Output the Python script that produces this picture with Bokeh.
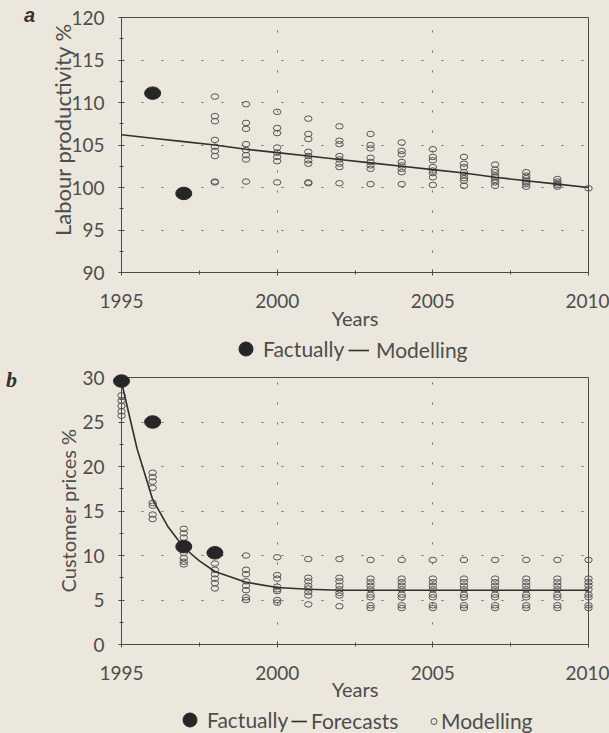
import math
from bokeh.plotting import figure
from bokeh.models import (ColumnDataSource, Legend, LegendItem, Range1d,
                          FixedTicker)
from bokeh.core.properties import value
from bokeh.layouts import column
from bokeh.embed import file_html
from bokeh.resources import INLINE

# ---------------- data: panel a (Labour productivity %) ----------------
a_fact_years = [1996, 1997]
a_fact_values = [111.1, 99.3]

a_line_years = [1995, 1996, 1997, 1998, 1999, 2000, 2001, 2002, 2003, 2004,
                2005, 2006, 2007, 2008, 2009, 2010]
a_line_values = [106.2, 105.8, 105.4, 105.0, 104.5, 104.1, 103.7, 103.3, 102.9,
                 102.5, 102.1, 101.7, 101.2, 100.8, 100.4, 100.0]

a_model_years = [1998, 1999, 2000, 2001, 2002, 2003, 2004, 2005, 2006, 2007,
                 2008, 2009, 2010]
a_model_values = [
    [110.7, 108.4, 107.8, 105.6, 104.8, 104.3, 103.7, 100.7, 100.6],
    [109.8, 107.6, 106.9, 105.1, 104.4, 103.8, 103.3, 100.7],
    [108.9, 107.0, 106.4, 104.7, 104.1, 103.6, 103.1, 100.6],
    [108.1, 106.3, 105.7, 104.2, 103.7, 103.2, 102.8, 100.6, 100.5],
    [107.2, 105.5, 105.1, 103.7, 103.3, 102.8, 102.4, 100.5],
    [106.3, 105.0, 104.6, 103.5, 103.0, 102.6, 102.2, 100.4],
    [105.3, 104.3, 103.9, 103.0, 102.6, 102.2, 101.8, 100.4],
    [104.5, 103.6, 103.2, 102.4, 102.0, 101.7, 101.2, 100.3],
    [103.6, 102.8, 102.4, 101.8, 101.5, 101.1, 100.8, 100.2],
    [102.7, 102.1, 101.8, 101.4, 101.2, 100.9, 100.6, 100.2],
    [101.8, 101.4, 101.1, 100.8, 100.6, 100.4, 100.1],
    [101.0, 100.7, 100.5, 100.3, 100.1],
    [99.9],
]

# ---------------- data: panel b (Customer prices %) ----------------
b_fact_years = [1995, 1996, 1997, 1998]
b_fact_values = [29.6, 25.0, 11.0, 10.3]

b_line_years = [1995, 1995.5, 1996, 1996.5, 1997, 1997.5, 1998, 1999, 2000,
                2001, 2002, 2003, 2004, 2005, 2006, 2007, 2008, 2009, 2010]
b_line_values = [29.5, 22.0, 16.3, 13.2, 10.9, 9.4, 8.2, 7.0, 6.4,
                 6.2, 6.1, 6.1, 6.1, 6.1, 6.1, 6.1, 6.1, 6.1, 6.1]

b_model_years = [1995, 1996, 1997, 1998, 1999, 2000, 2001, 2002, 2003, 2004,
                 2005, 2006, 2007, 2008, 2009, 2010]
b_model_values = [
    [28.0, 27.4, 26.8, 26.2, 25.7],
    [19.3, 18.8, 18.3, 17.6, 15.9, 15.6, 14.6, 14.1],
    [13.0, 12.5, 12.0, 10.9, 10.3, 9.7, 9.3, 9.0],
    [9.1, 8.4, 7.9, 7.4, 6.9, 6.3],
    [10.0, 8.4, 7.9, 7.1, 6.6, 6.1, 5.3, 5.0],
    [9.8, 7.8, 7.4, 6.5, 6.2, 6.0, 5.0, 4.7],
    [9.6, 7.5, 7.1, 6.6, 6.3, 5.9, 5.5, 4.5],
    [9.6, 7.5, 7.1, 6.6, 6.2, 5.8, 5.5, 4.3],
    [9.5, 7.4, 7.0, 6.6, 6.2, 5.6, 5.3, 4.4, 4.1],
    [9.5, 7.4, 7.0, 6.6, 6.2, 5.6, 5.3, 4.4, 4.1],
    [9.5, 7.4, 7.0, 6.6, 6.2, 5.6, 5.3, 4.4, 4.1],
    [9.5, 7.4, 7.0, 6.6, 6.2, 5.6, 5.3, 4.4, 4.1],
    [9.5, 7.4, 7.0, 6.6, 6.2, 5.6, 5.3, 4.4, 4.1],
    [9.5, 7.4, 7.0, 6.6, 6.2, 5.6, 5.3, 4.4, 4.1],
    [9.5, 7.4, 7.0, 6.6, 6.2, 5.6, 5.3, 4.4, 4.1],
    [9.5, 7.4, 7.0, 6.6, 6.2, 5.6, 5.3, 4.4, 4.1],
]

# ---------------- ticks / labels ----------------
x_ticks = [1995, 2000, 2005, 2010]
x_minor = [1997.5, 2002.5, 2007.5]
a_y_ticks = [90, 95, 100, 105, 110, 115, 120]
a_y_minor = [92.5, 97.5, 102.5, 107.5, 112.5, 117.5]
b_y_ticks = [0, 5, 10, 15, 20, 25, 30]
b_y_minor = [2.5, 7.5, 12.5, 17.5, 22.5, 27.5]

# ---------------- styling ----------------
BG = "#ebe7dc"
TXT = "#4d4d4d"
AX = "#4a4a4a"
DARK = "#262626"
GRID = "#6a6a6a"
CIRC = "#555555"
LINE = "#303030"
FONT = "Lato"


def flatten(years, values):
    xs, ys = [], []
    for yr, vals in zip(years, values):
        for v in vals:
            xs.append(yr)
            ys.append(v)
    return xs, ys


def make_fig(height, bl, br, bt, bb, yr, yt, ym, label_standoff):
    p = figure(width=609, height=height, x_range=Range1d(1995, 2010),
               y_range=Range1d(*yr), output_backend="svg",
               toolbar_location=None, min_border_left=bl, min_border_right=br,
               min_border_top=bt, min_border_bottom=bb)
    p.background_fill_color = BG
    p.border_fill_color = BG
    p.outline_line_color = AX
    p.outline_line_width = 1
    p.xaxis.ticker = FixedTicker(ticks=x_ticks, minor_ticks=x_minor)
    p.yaxis.ticker = FixedTicker(ticks=yt, minor_ticks=ym)
    p.xgrid.ticker = FixedTicker(ticks=x_ticks)
    p.ygrid.ticker = FixedTicker(ticks=yt)
    for g in (p.xgrid, p.ygrid):
        g.grid_line_color = GRID
        g.grid_line_dash = "2 18"
        g.grid_line_width = 1
    for ax in (p.xaxis[0], p.yaxis[0]):
        ax.axis_line_color = AX
        ax.major_tick_line_color = AX
        ax.minor_tick_line_color = AX
        ax.major_tick_in = 3
        ax.major_tick_out = 3
        ax.minor_tick_in = 2
        ax.minor_tick_out = 2
        ax.major_label_text_font = FONT
        ax.major_label_text_font_size = "19px"
        ax.major_label_text_color = TXT
    p.yaxis.major_label_standoff = 14
    p.xaxis.major_label_standoff = 18
    p.xaxis.axis_label = "Years"
    p.xaxis.axis_label_text_font = FONT
    p.xaxis.axis_label_text_font_size = "20px"
    p.xaxis.axis_label_text_font_style = "normal"
    p.xaxis.axis_label_text_color = TXT
    p.xaxis.axis_label_standoff = label_standoff
    return p


def side_text(p, x, y, text, dx, dy, font, size, style="normal", angle=0.0,
              color=TXT):
    # free text anchored at a corner of the frame, offset in pixels
    p.text(x=[x], y=[y], text=[text], x_offset=dx, y_offset=dy, angle=angle,
           text_align="center", text_baseline="middle",
           text_font=value(font), text_font_size=size, text_font_style=style,
           text_color=color, level="overlay")


def legend_fig(height):
    f = figure(width=609, height=height, x_range=Range1d(0, 1),
               y_range=Range1d(0, 1), x_axis_type=None, y_axis_type=None,
               toolbar_location=None, output_backend="svg", min_border=0,
               min_border_left=0, min_border_right=0, min_border_top=0,
               min_border_bottom=0)
    f.outline_line_color = None
    f.background_fill_color = BG
    f.border_fill_color = BG
    return f


def add_legend(f, label, renderer, loc, gw, gh, standoff):
    lg = Legend(items=[LegendItem(label=label, renderers=[renderer])],
                location=loc, orientation="horizontal",
                glyph_width=gw, glyph_height=gh, label_standoff=standoff,
                spacing=0, padding=0, margin=0, border_line_color=None,
                background_fill_alpha=0, label_text_font=FONT,
                label_text_font_size="21px", label_text_color=TXT)
    f.add_layout(lg)


# ---------------- panel a ----------------
pa = make_fig(335, 121, 21, 17, 63, (90, 120), a_y_ticks, a_y_minor, -5)
ax_, ay_ = flatten(a_model_years, a_model_values)
src_am = ColumnDataSource(dict(x=ax_, y=ay_))
pa.ellipse("x", "y", source=src_am, width=7.5, height=5.5, width_units="screen",
           height_units="screen", fill_color=None, line_color=CIRC,
           line_width=1, level="overlay")
src_al = ColumnDataSource(dict(x=a_line_years, y=a_line_values))
pa.line("x", "y", source=src_al, line_color=LINE, line_width=1.6,
        level="overlay")
src_af = ColumnDataSource(dict(x=a_fact_years, y=a_fact_values))
pa.ellipse("x", "y", source=src_af, width=16, height=12.5,
           width_units="screen", height_units="screen",
           fill_color=DARK, line_color=DARK, level="overlay")
side_text(pa, 1995, 120, "Labour productivity %", -59, 112, FONT, "22px",
          angle=math.pi / 2)
side_text(pa, 1995, 120, "a", -92, -3, "Liberation Sans", "20px",
          style="bold italic", color="#333333")

# legend row for panel a (its frame lines up with the plot above)
la = legend_fig(27)
la_fact = la.scatter("x", "y", source=src_af, marker="circle", size=14,
                     fill_color=DARK, line_color=DARK)
la_line = la.line("x", "y", source=src_al, line_color=LINE, line_width=1.6)
add_legend(la, "Factually", la_fact, (107, -4), 35, 35, 0)
add_legend(la, "Modelling", la_line, (227, 0), 21, 24, 7)

# ---------------- panel b ----------------
pb = make_fig(344, 121, 18, 15, 62, (0, 30), b_y_ticks, b_y_minor, -6)
bx_, by_ = flatten(b_model_years, b_model_values)
src_bm = ColumnDataSource(dict(x=bx_, y=by_))
pb.ellipse("x", "y", source=src_bm, width=7.5, height=5.5, width_units="screen",
           height_units="screen", fill_color=None, line_color=CIRC,
           line_width=1, level="overlay")
src_bl = ColumnDataSource(dict(x=b_line_years, y=b_line_values))
pb.line("x", "y", source=src_bl, line_color=LINE, line_width=1.6,
        level="overlay")
src_bf = ColumnDataSource(dict(x=b_fact_years, y=b_fact_values))
pb.ellipse("x", "y", source=src_bf, width=16, height=12.5,
           width_units="screen", height_units="screen",
           fill_color=DARK, line_color=DARK, level="overlay")
side_text(pb, 1995, 30, "Customer prices %", -54, 133, FONT, "20px",
          angle=math.pi / 2)
side_text(pb, 1995, 30, "b", -110, 2, "Liberation Serif", "22px",
          style="bold italic", color="#333333")

# legend row for panel b
lb = legend_fig(27)
lb_fact = lb.scatter("x", "y", source=src_bf, marker="circle", size=14,
                     fill_color=DARK, line_color=DARK)
lb_line = lb.line("x", "y", source=src_bl, line_color=LINE, line_width=1.6)
lb_mod = lb.scatter("x", "y", source=src_bm, marker="circle", size=6,
                    fill_color=None, line_color=CIRC)
add_legend(lb, "Factually", lb_fact, (51, -4), 35, 35, 0)
add_legend(lb, "Forecasts", lb_line, (170, 0), 16, 24, 4)
add_legend(lb, "Modelling", lb_mod, (305, 0), 15, 24, 0)

layout = column(pa, la, pb, lb)
html = file_html(layout, INLINE)
html = html.replace("</head>",
                    "<style>html, body { background-color: %s; }</style></head>" % BG, 1)
open("out.html", "w").write(html)
